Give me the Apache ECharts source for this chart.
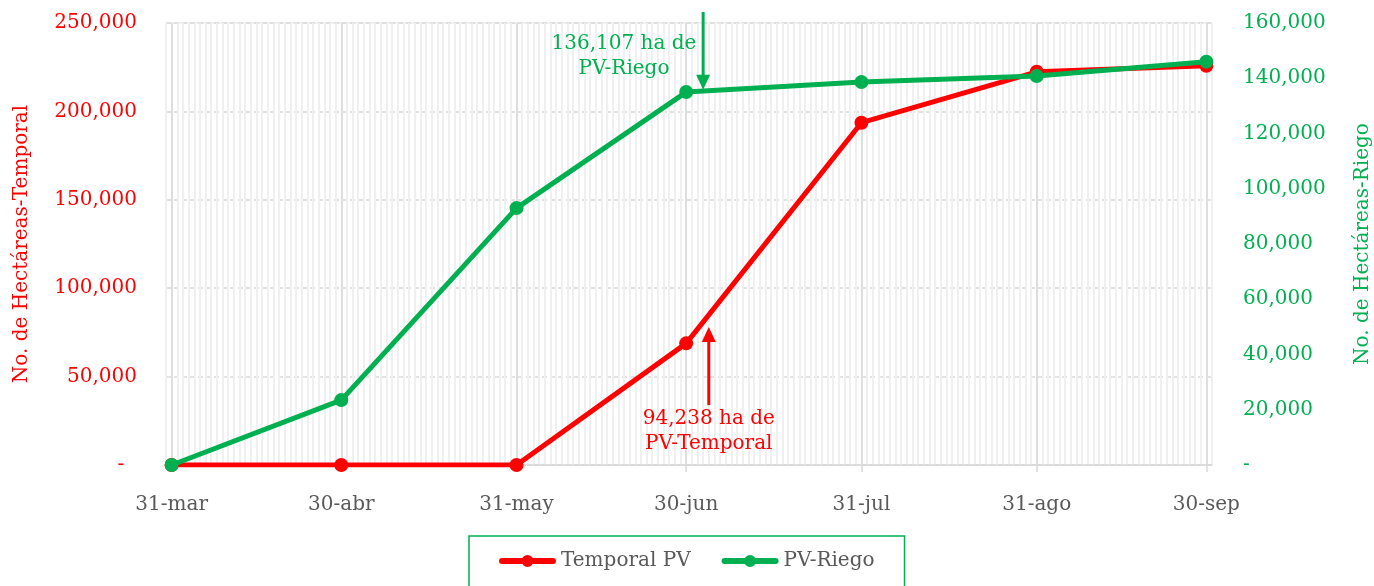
<!DOCTYPE html>
<html>
<head>
<meta charset="utf-8">
<script src="https://cdn.jsdelivr.net/npm/echarts@6/dist/echarts.min.js"></script>
<style>
html,body{margin:0;padding:0;background:#fff;}
#c{width:1374px;height:586px;}
</style>
</head>
<body>
<div id="c"></div>
<script>
// ---- data ----
const tickLabels = ['31-mar', '30-abr', '31-may', '30-jun', '31-jul', '31-ago', '30-sep'];
const temporalPV = [0, 0, 0, 68800, 193600, 222400, 225800];
const pvRiego = [0, 23500, 93000, 135000, 138600, 140800, 146000];
const seriesNames = ['Temporal PV', 'PV-Riego'];
const leftAxisName = 'No. de Hectáreas-Temporal';
const rightAxisName = 'No. de Hectáreas-Riego';
const riegoNote = '136,107 ha de\nPV-Riego';
const temporalNote = '94,238 ha de\nPV-Temporal';
// annotation anchors in data space: [day, value]
const riegoArrow = {day: '3-jul', from: 164000, to: 135800};
const temporalArrow = {day: '4-jul', from: 33900, to: 78000};
const riegoNoteAt = ['19-jun', 148000];
const temporalNoteAt = ['4-jul', 19000];
const monthNames = ['ene','feb','mar','abr','may','jun','jul','ago','sep','oct','nov','dic'];

// daily categories, 30-mar .. 1-oct
const days = [];
for (let t = Date.UTC(2023, 2, 30); t <= Date.UTC(2023, 9, 1); t += 86400000) {
  const d = new Date(t);
  days.push(d.getUTCDate() + '-' + monthNames[d.getUTCMonth()]);
}
const isTick = (i, v) => tickLabels.indexOf(v) >= 0;

const RED = '#ff0000', GREEN = '#00b050';
const FONT = 'DejaVu Serif';
const fmtL = v => v === 0 ? '-  ' : v.toLocaleString('en-US');
const fmtR = v => v === 0 ? '-' : v.toLocaleString('en-US');
const legendIcon = 'path://M3,3 H54 A3,3 0 0 1 54,9 H3 A3,3 0 0 1 3,3 Z M28.5,0 A6,6 0 0 1 28.5,12 A6,6 0 0 1 28.5,0 Z';

const chart = echarts.init(document.getElementById('c'), null, {renderer: 'canvas'});
chart.setOption({
  animation: false,
  textStyle: {fontFamily: FONT},
  grid: {left: 166, right: 162, top: 23, bottom: 121, show: true, borderColor: '#e3e3e3', borderWidth: 1,
         containLabel: false, outerBoundsMode: 'none'},
  legend: {
    data: seriesNames.map(n => ({name: n, icon: legendIcon})),
    left: 469, top: 536,
    padding: [15, 30, 20, 30],
    borderColor: GREEN, borderWidth: 1.5,
    itemWidth: 57, itemHeight: 12, itemGap: 31,
    textStyle: {fontFamily: FONT, fontSize: 20, color: '#595959'}
  },
  xAxis: [
    {
      type: 'category', data: days, boundaryGap: false,
      axisLine: {show: false}, axisTick: {show: false}, axisLabel: {show: false},
      splitLine: {show: true, interval: 0, lineStyle: {color: '#f0f0f0', width: 2}}
    },
    {
      type: 'category', data: days, boundaryGap: false, position: 'bottom',
      axisLine: {show: true, lineStyle: {color: '#d9d9d9', width: 1.5}},
      axisTick: {show: true, interval: isTick, length: 7, lineStyle: {color: '#d9d9d9', width: 1.5}},
      axisLabel: {show: true, interval: isTick, margin: 30, color: '#595959', fontSize: 20, fontFamily: FONT},
      splitLine: {show: true, interval: isTick, lineStyle: {color: '#d9d9d9', width: 1.5}}
    }
  ],
  yAxis: [
    {
      type: 'value', min: 0, max: 250000, interval: 50000, position: 'left',
      name: leftAxisName, nameLocation: 'middle', nameGap: 134,
      nameTextStyle: {color: RED, fontSize: 20, fontFamily: FONT},
      axisLine: {show: false}, axisTick: {show: false},
      axisLabel: {color: RED, fontSize: 20, fontFamily: FONT, margin: 29, formatter: fmtL},
      splitLine: {show: true, lineStyle: {color: '#d9d9d9', width: 1.5, type: [5, 3]}}
    },
    {
      type: 'value', min: 0, max: 160000, interval: 20000, position: 'right',
      name: rightAxisName, nameLocation: 'middle', nameGap: 141,
      nameTextStyle: {color: GREEN, fontSize: 20, fontFamily: FONT},
      axisLine: {show: false}, axisTick: {show: false},
      axisLabel: {color: GREEN, fontSize: 20, fontFamily: FONT, margin: 31, formatter: fmtR},
      splitLine: {show: false}
    }
  ],
  series: [
    {
      name: seriesNames[0], type: 'line', xAxisIndex: 1, yAxisIndex: 0,
      data: tickLabels.map((c, i) => [c, temporalPV[i]]),
      symbol: 'circle', symbolSize: 14,
      lineStyle: {color: RED, width: 5}, itemStyle: {color: RED},
      markPoint: {
        silent: true, symbol: 'circle', symbolSize: 0,
        label: {show: true, position: 'inside', color: RED, fontSize: 20, fontFamily: FONT, lineHeight: 25, align: 'center'},
        data: [{coord: temporalNoteAt, value: 1, label: {formatter: temporalNote}}]
      },
      z: 2
    },
    {
      name: seriesNames[1], type: 'line', xAxisIndex: 1, yAxisIndex: 1,
      data: tickLabels.map((c, i) => [c, pvRiego[i]]),
      symbol: 'circle', symbolSize: 14,
      lineStyle: {color: GREEN, width: 5}, itemStyle: {color: GREEN},
      markPoint: {
        silent: true, symbol: 'circle', symbolSize: 0,
        label: {show: true, position: 'inside', color: GREEN, fontSize: 20, fontFamily: FONT, lineHeight: 25, align: 'center'},
        data: [{coord: riegoNoteAt, value: 1, label: {formatter: riegoNote}}]
      },
      z: 3
    }
  ]
});

// arrows, placed through the axes' own scales
function arrow(a, yAxisIndex, color) {
  const xi = days.indexOf(a.day);
  const p0 = chart.convertToPixel({xAxisIndex: 1, yAxisIndex: yAxisIndex}, [xi, a.from]);
  const p1 = chart.convertToPixel({xAxisIndex: 1, yAxisIndex: yAxisIndex}, [xi, a.to]);
  const dir = p1[1] > p0[1] ? 1 : -1;
  const headH = 15, headW = 14;
  return [
    {type: 'line', z: 10, shape: {x1: p0[0], y1: p0[1], x2: p1[0], y2: p1[1] - dir * headH + dir * 1},
     style: {stroke: color, lineWidth: 3}},
    {type: 'polygon', z: 10, shape: {points: [[p1[0], p1[1]], [p1[0] - headW / 2, p1[1] - dir * headH], [p1[0] + headW / 2, p1[1] - dir * headH]]},
     style: {fill: color}}
  ];
}
chart.setOption({graphic: [].concat(arrow(riegoArrow, 1, GREEN), arrow(temporalArrow, 0, RED))});
</script>
</body>
</html>
